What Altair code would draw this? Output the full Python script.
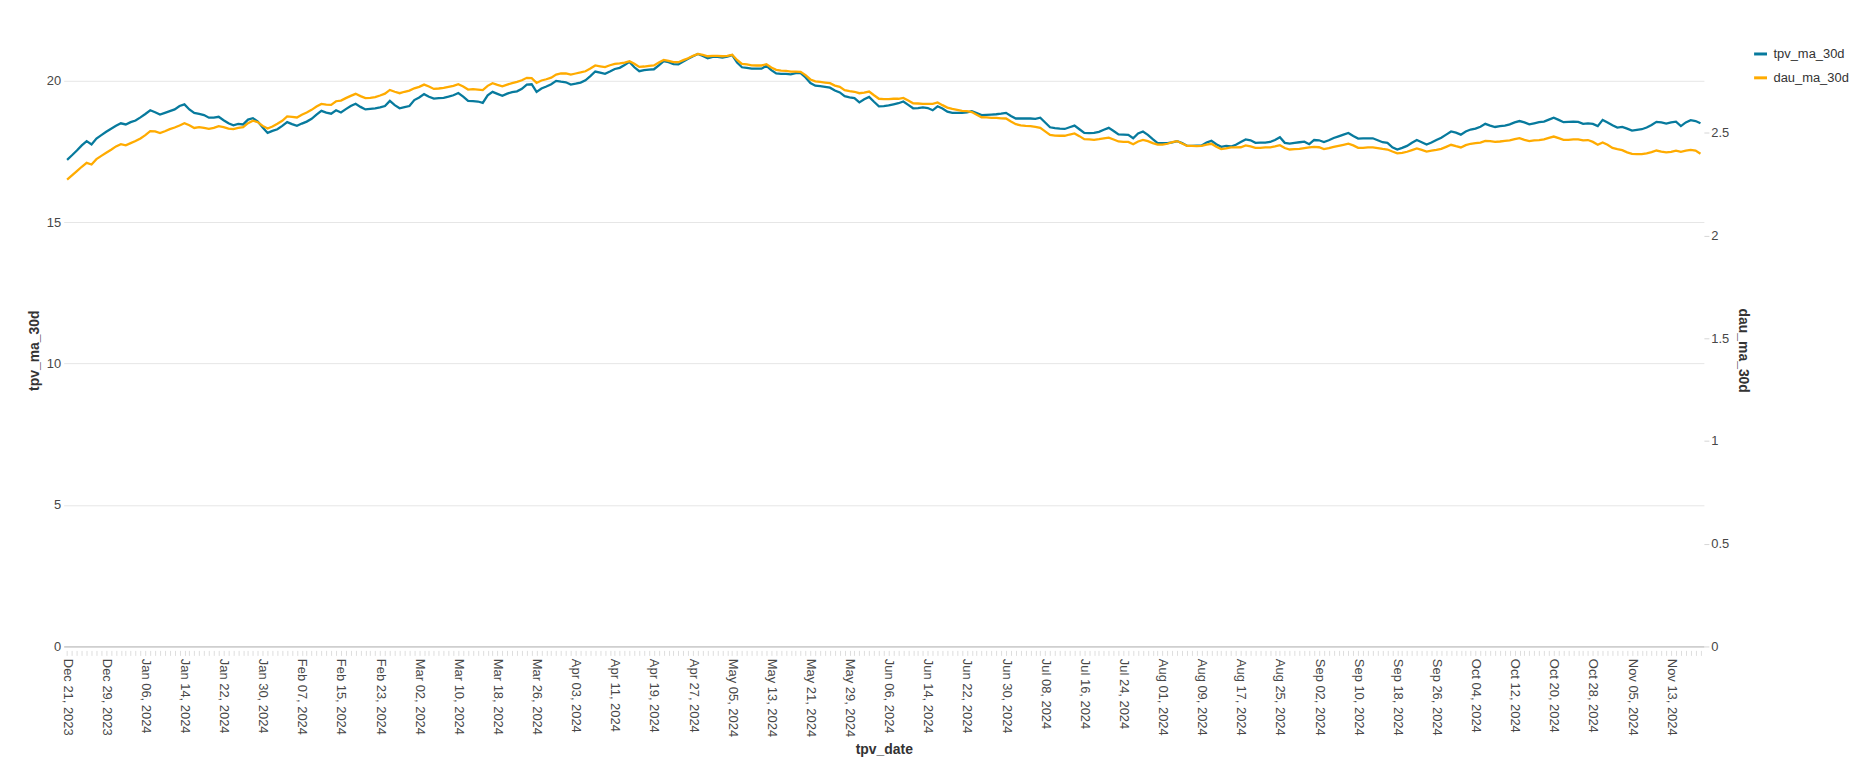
import altair as alt
import pandas as pd

# ---- categories ----
dates = pd.date_range("2023-12-21", periods=335, freq="D")
date_labels = [d.strftime("%b %d, %Y") for d in dates]

# ---- series values ----
tpv_ma_30d = [
    17.20, 17.36, 17.53, 17.71, 17.86, 17.74, 17.95, 18.07, 18.19, 18.30,
    18.40, 18.49, 18.45, 18.53, 18.59, 18.70, 18.82, 18.95, 18.88, 18.80,
    18.86, 18.92, 18.98, 19.10, 19.16, 18.98, 18.86, 18.82, 18.78, 18.69,
    18.69, 18.72, 18.60, 18.49, 18.42, 18.47, 18.45, 18.62, 18.67, 18.55,
    18.34, 18.15, 18.22, 18.28, 18.40, 18.53, 18.46, 18.40, 18.48, 18.55,
    18.65, 18.80, 18.93, 18.87, 18.83, 18.95, 18.87, 18.99, 19.10, 19.18,
    19.07, 18.98, 19.00, 19.02, 19.05, 19.10, 19.28, 19.13, 19.02, 19.06,
    19.10, 19.31, 19.40, 19.52, 19.43, 19.36, 19.38, 19.39, 19.43, 19.48,
    19.56, 19.43, 19.28, 19.27, 19.26, 19.21, 19.48, 19.60, 19.53, 19.46,
    19.54, 19.59, 19.62, 19.71, 19.86, 19.87, 19.60, 19.72, 19.79, 19.87,
    19.99, 19.96, 19.94, 19.86, 19.89, 19.93, 20.01, 20.16, 20.32, 20.28,
    20.24, 20.32, 20.41, 20.45, 20.55, 20.66, 20.47, 20.33, 20.37, 20.39,
    20.40, 20.54, 20.69, 20.65, 20.58, 20.57, 20.67, 20.77, 20.86, 20.94,
    20.87, 20.79, 20.84, 20.84, 20.81, 20.85, 20.90, 20.64, 20.47, 20.45,
    20.42, 20.42, 20.42, 20.52, 20.37, 20.25, 20.24, 20.24, 20.22, 20.26,
    20.26, 20.11, 19.91, 19.82, 19.80, 19.78, 19.75, 19.65, 19.58, 19.45,
    19.41, 19.38, 19.23, 19.34, 19.42, 19.25, 19.09, 19.10, 19.12, 19.16,
    19.20, 19.26, 19.14, 19.02, 19.03, 19.05, 19.03, 18.95, 19.09, 19.01,
    18.90, 18.86, 18.86, 18.86, 18.88, 18.92, 18.85, 18.78, 18.79, 18.80,
    18.81, 18.83, 18.86, 18.75, 18.66, 18.66, 18.66, 18.66, 18.65, 18.69,
    18.52, 18.35, 18.32, 18.30, 18.29, 18.35, 18.41, 18.28, 18.15, 18.14,
    18.15, 18.19, 18.26, 18.33, 18.22, 18.10, 18.09, 18.08, 17.96, 18.13,
    18.20, 18.08, 17.93, 17.79, 17.79, 17.79, 17.82, 17.86, 17.79, 17.70,
    17.69, 17.70, 17.71, 17.81, 17.87, 17.75, 17.66, 17.69, 17.67, 17.73,
    17.83, 17.92, 17.89, 17.80, 17.81, 17.81, 17.83, 17.90, 18.00, 17.80,
    17.77, 17.80, 17.82, 17.84, 17.75, 17.90, 17.89, 17.83, 17.89, 17.97,
    18.03, 18.09, 18.15, 18.04, 17.95, 17.96, 17.96, 17.96, 17.89, 17.82,
    17.80, 17.64, 17.56, 17.62, 17.69, 17.80, 17.90, 17.82, 17.74, 17.81,
    17.90, 17.98, 18.09, 18.20, 18.16, 18.09, 18.20, 18.27, 18.30, 18.37,
    18.47, 18.41, 18.36, 18.39, 18.41, 18.45, 18.52, 18.57, 18.52, 18.45,
    18.49, 18.53, 18.55, 18.62, 18.69, 18.61, 18.53, 18.54, 18.55, 18.54,
    18.47, 18.49, 18.47, 18.39, 18.61, 18.52, 18.42, 18.34, 18.36, 18.30,
    18.23, 18.26, 18.28, 18.34, 18.43, 18.54, 18.52, 18.48, 18.52, 18.55,
    18.39, 18.52, 18.60, 18.57, 18.49,
]

dau_ma_30d = [
    2.272, 2.293, 2.314, 2.335, 2.354, 2.346, 2.372, 2.388, 2.403, 2.418,
    2.434, 2.445, 2.439, 2.450, 2.460, 2.473, 2.489, 2.508, 2.507, 2.499,
    2.508, 2.518, 2.526, 2.536, 2.547, 2.537, 2.524, 2.528, 2.524, 2.520,
    2.524, 2.533, 2.528, 2.521, 2.518, 2.524, 2.528, 2.547, 2.559, 2.552,
    2.534, 2.521, 2.531, 2.544, 2.559, 2.580, 2.578, 2.575, 2.588, 2.599,
    2.612, 2.628, 2.641, 2.638, 2.636, 2.654, 2.657, 2.669, 2.680, 2.690,
    2.679, 2.669, 2.670, 2.674, 2.682, 2.691, 2.709, 2.700, 2.693, 2.700,
    2.706, 2.717, 2.724, 2.735, 2.726, 2.714, 2.716, 2.719, 2.724, 2.729,
    2.737, 2.726, 2.711, 2.713, 2.711, 2.708, 2.729, 2.742, 2.734, 2.727,
    2.735, 2.742, 2.748, 2.756, 2.768, 2.766, 2.743, 2.755, 2.761, 2.769,
    2.784, 2.789, 2.790, 2.784, 2.789, 2.794, 2.800, 2.813, 2.828, 2.824,
    2.820, 2.829, 2.836, 2.838, 2.842, 2.849, 2.836, 2.821, 2.823, 2.826,
    2.828, 2.842, 2.855, 2.850, 2.844, 2.844, 2.854, 2.863, 2.875, 2.884,
    2.880, 2.873, 2.875, 2.875, 2.873, 2.875, 2.880, 2.855, 2.836, 2.833,
    2.829, 2.828, 2.828, 2.834, 2.818, 2.807, 2.803, 2.802, 2.798, 2.798,
    2.797, 2.781, 2.760, 2.751, 2.748, 2.745, 2.742, 2.730, 2.724, 2.708,
    2.703, 2.700, 2.693, 2.696, 2.701, 2.683, 2.666, 2.664, 2.664, 2.666,
    2.666, 2.670, 2.657, 2.644, 2.643, 2.641, 2.641, 2.641, 2.648, 2.635,
    2.623, 2.617, 2.612, 2.607, 2.606, 2.601, 2.588, 2.576, 2.575, 2.573,
    2.573, 2.571, 2.570, 2.555, 2.542, 2.537, 2.534, 2.533, 2.529, 2.524,
    2.507, 2.490, 2.487, 2.486, 2.486, 2.492, 2.497, 2.484, 2.469, 2.468,
    2.466, 2.469, 2.473, 2.477, 2.468, 2.458, 2.456, 2.456, 2.445, 2.458,
    2.466, 2.460, 2.450, 2.443, 2.443, 2.447, 2.455, 2.460, 2.448, 2.437,
    2.437, 2.435, 2.437, 2.443, 2.447, 2.432, 2.421, 2.424, 2.429, 2.429,
    2.430, 2.439, 2.434, 2.427, 2.427, 2.429, 2.429, 2.434, 2.440, 2.426,
    2.419, 2.421, 2.422, 2.426, 2.429, 2.432, 2.430, 2.421, 2.426, 2.432,
    2.437, 2.442, 2.447, 2.439, 2.427, 2.427, 2.429, 2.429, 2.426, 2.422,
    2.419, 2.409, 2.400, 2.403, 2.408, 2.416, 2.424, 2.417, 2.409, 2.413,
    2.417, 2.422, 2.432, 2.442, 2.435, 2.429, 2.440, 2.447, 2.450, 2.453,
    2.461, 2.460, 2.456, 2.458, 2.461, 2.463, 2.469, 2.474, 2.466, 2.460,
    2.463, 2.465, 2.468, 2.476, 2.482, 2.474, 2.466, 2.466, 2.468, 2.468,
    2.463, 2.465, 2.456, 2.442, 2.453, 2.442, 2.427, 2.421, 2.416, 2.405,
    2.398, 2.396, 2.396, 2.400, 2.406, 2.414, 2.409, 2.405, 2.408, 2.413,
    2.408, 2.413, 2.417, 2.414, 2.398,
]

series_names = ["tpv_ma_30d", "dau_ma_30d"]
series_colors = ["#077A9D", "#FFAB00"]

df = pd.DataFrame({
    "tpv_date": date_labels,
    "tpv_ma_30d": tpv_ma_30d,
    "dau_ma_30d": dau_ma_30d,
})

FONT = "Liberation Sans"

x_enc = alt.X(
    "tpv_date:O",
    sort=date_labels,
    title="tpv_date",
    scale=alt.Scale(padding=0.7),
    axis=alt.Axis(
        labelAngle=90,
        labelOverlap="parity",
        labelSeparation=8,
        domain=False,
        offset=4,
        ticks=True,
        tickSize=5,
        tickColor="#dedede",
        labelPadding=3,
        titlePadding=6,
        grid=False,
    ),
)

color_scale = alt.Scale(domain=series_names, range=series_colors)
legend = alt.Legend(
    title=None,
    orient="none",
    legendX=1699,
    legendY=-8,
    symbolType="stroke",
    symbolSize=169,
    symbolStrokeWidth=3,
    labelFontSize=13,
    labelColor="#333333",
    rowPadding=9,
    labelOffset=5,
)

tpv_layer = (
    alt.Chart(df)
    .transform_calculate(series="'tpv_ma_30d'")
    .mark_line(strokeWidth=2.3)
    .encode(
        x=x_enc,
        y=alt.Y(
            "tpv_ma_30d:Q",
            title="tpv_ma_30d",
            scale=alt.Scale(zero=True, nice=False),
            axis=alt.Axis(
                orient="left",
                tickCount=5,
                format="~g",
                ticks=False,
                domain=False,
                labelPadding=3,
                titlePadding=5,
                grid=True,
                gridColor=alt.condition(
                    "datum.value === 0", alt.value("#a9a9a9"), alt.value("#e6e6e6")
                ),
            ),
        ),
        color=alt.Color("series:N", scale=color_scale, legend=legend),
    )
)

dau_layer = (
    alt.Chart(df)
    .transform_calculate(series="'dau_ma_30d'")
    .mark_line(strokeWidth=2.3)
    .encode(
        x=x_enc,
        y=alt.Y(
            "dau_ma_30d:Q",
            title="dau_ma_30d",
            scale=alt.Scale(zero=True, nice=False),
            axis=alt.Axis(
                orient="right",
                tickCount=5,
                format="~g",
                ticks=True,
                tickSize=5,
                tickColor="#d6d6d6",
                domain=False,
                labelPadding=2,
                titlePadding=7,
                grid=False,
            ),
        ),
        color=alt.Color("series:N", scale=color_scale, legend=legend),
    )
)

chart = (
    alt.layer(tpv_layer, dau_layer)
    .resolve_scale(y="independent")
    .properties(
        width=1650,
        height=596,
        padding={"left": 19, "top": 36, "right": 5, "bottom": 5},
        background="white",
    )
    .configure(font=FONT)
    .configure_axis(
        labelFont=FONT,
        titleFont=FONT,
        labelFontSize=13,
        titleFontSize=14,
        titleFontWeight="bold",
        labelColor="#474747",
        titleColor="#333333",
    )
    .configure_legend(labelFont=FONT)
    .configure_view(stroke=None)
)

chart.save("out.html", embed_options={"renderer": "svg", "actions": False})
